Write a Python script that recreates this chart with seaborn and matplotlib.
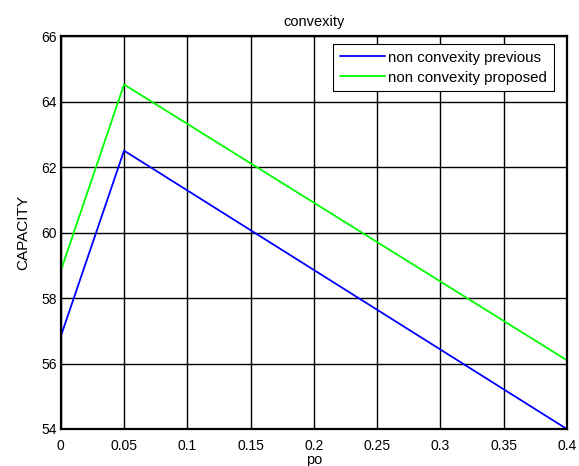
import matplotlib
matplotlib.use("Agg")
import matplotlib.pyplot as plt
import seaborn as sns
import pandas as pd

po = [0.0, 0.05, 0.4]
previous = [56.83, 62.5, 54.0]
proposed = [58.83, 64.52, 56.1]
xticks = [0, 0.05, 0.1, 0.15, 0.2, 0.25, 0.3, 0.35, 0.4]
xticklabels = ["0", "0.05", "0.1", "0.15", "0.2", "0.25", "0.3", "0.35", "0.4"]
yticks = [54, 56, 58, 60, 62, 64, 66]

sns.set_theme(style="white")
plt.rcParams['font.family'] = ['Liberation Sans', 'DejaVu Sans']

df = pd.DataFrame({
    "po": po * 2,
    "CAPACITY": previous + proposed,
    "series": ["non convexity previous"] * 3 + ["non convexity proposed"] * 3,
})

fig = plt.figure(figsize=(5.79, 4.66), dpi=100)
ax = fig.add_axes([0.105, 0.0794, 0.874, 0.8433])
sns.lineplot(data=df, x="po", y="CAPACITY", hue="series",
             palette=["#0000ff", "#00ff00"], linewidth=1.3, ax=ax)

ax.set_xlim(0, 0.4)
ax.set_ylim(54, 66)
ax.set_xticks(xticks)
ax.set_xticklabels(xticklabels)
ax.set_yticks(yticks)
ax.grid(True, color="black", linewidth=1.0)
ax.set_axisbelow(True)
for s in ax.spines.values():
    s.set_color("black")
    s.set_linewidth(1.6)
ax.tick_params(axis="both", labelsize=10, colors="black", length=0, pad=3)
ax.tick_params(axis="x", pad=7)
ax.set_title("convexity", fontsize=10.5, color="black", pad=7)
ax.set_xlabel("po", fontsize=10.5, color="black", labelpad=0)
ax.set_ylabel("CAPACITY", fontsize=11, color="black", labelpad=8)

leg = ax.legend(loc="upper right", fontsize=10.8, frameon=True, fancybox=False,
                edgecolor="black", framealpha=1, handlelength=3.0,
                handletextpad=0.2, labelspacing=0.4, borderpad=0.45,
                borderaxespad=0, bbox_to_anchor=(0.974, 0.98))
leg.get_frame().set_linewidth(0.8)
for t in leg.get_texts():
    t.set_color("black")

fig.savefig("out.png", dpi=100, facecolor="white")
